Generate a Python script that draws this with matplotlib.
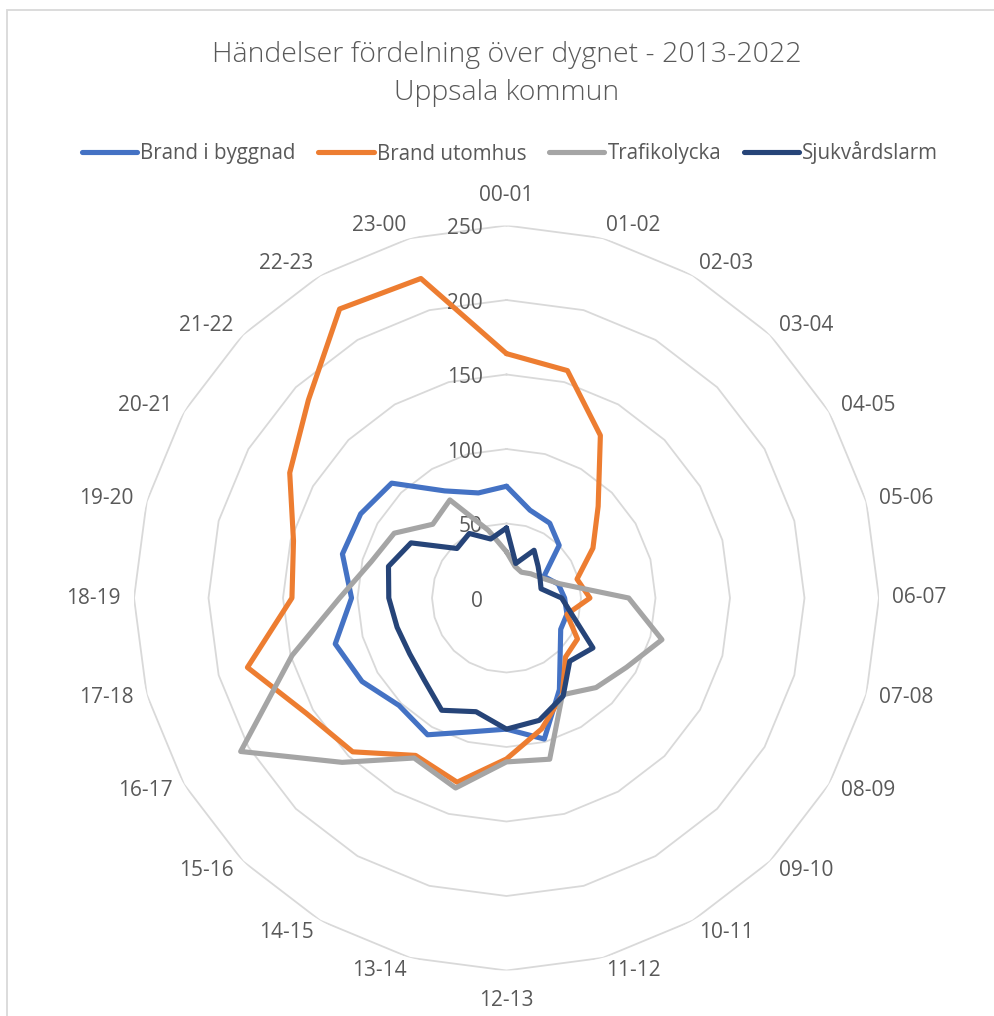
import numpy as np
import matplotlib
matplotlib.use("Agg")
import matplotlib.pyplot as plt
from matplotlib.lines import Line2D
from matplotlib.patches import Rectangle

plt.rcParams['font.family'] = ['Open Sans', 'DejaVu Sans']

# ---------------- data ----------------
hours = ["00-01", "01-02", "02-03", "03-04", "04-05", "05-06", "06-07", "07-08",
         "08-09", "09-10", "10-11", "11-12", "12-13", "13-14", "14-15", "15-16",
         "16-17", "17-18", "18-19", "19-20", "20-21", "21-22", "22-23", "23-00"]

series_names = ["Brand i byggnad", "Brand utomhus", "Trafikolycka", "Sjukvårdslarm"]

brand_i_byggnad = [75, 61, 58, 50, 29, 36, 39, 42, 42, 51, 71, 98,
                   88, 93, 106, 102, 112, 119, 104, 114, 113, 109, 83, 73]
brand_utomhus = [164, 158, 126, 87, 67, 49, 56, 42, 55, 56, 75, 91,
                 108, 128, 122, 146, 155, 180, 144, 148, 168, 188, 224, 222]
trafikolycka = [31, 22, 20, 23, 27, 37, 82, 108, 93, 85, 75, 112,
                110, 132, 124, 156, 206, 149, 112, 94, 87, 70, 76, 47]
sjukvardslarm = [47, 24, 37, 30, 26, 24, 37, 46, 67, 60, 76, 85,
                 88, 79, 87, 78, 75, 76, 79, 82, 74, 47, 50, 41]

radial_ticks = [0, 50, 100, 150, 200, 250]

title_line1 = "Händelser fördelning över dygnet - 2013-2022"
title_line2 = "Uppsala kommun"

colors = ["#4472C4", "#ED7D31", "#A5A5A5", "#264478"]
text_color = "#595959"
grid_color = "#D9D9D9"

# ---------------- figure ----------------
W, H = 995, 1016
fig = plt.figure(figsize=(W / 100, H / 100), dpi=100)
fig.patch.set_facecolor("white")

# chart-area border (partially visible)
fig.patches.append(Rectangle((7 / W, -0.05), 1.2, (H - 10) / H + 0.05,
                             transform=fig.transFigure, fill=False,
                             edgecolor=grid_color, linewidth=1.3))

cx, cy, R = 506.5, 598, 372.5
ax = fig.add_axes([(cx - R) / W, (H - cy - R) / H, 2 * R / W, 2 * R / H],
                  projection="polar")
ax.set_theta_zero_location("N")
ax.set_theta_direction(-1)
ax.set_ylim(0, radial_ticks[-1])
ax.grid(False)
ax.spines["polar"].set_visible(False)
ax.set_xticks([])
ax.set_yticks([])
ax.patch.set_alpha(0)

n = len(hours)
theta = np.deg2rad(np.arange(n) * 360.0 / n)
theta_c = np.append(theta, theta[0])

# polygon gridlines
for v in radial_ticks[1:]:
    ax.plot(theta_c, [v] * (n + 1), color=grid_color, lw=1.3, zorder=1,
            solid_joinstyle="miter")

# radial labels
for v in radial_ticks:
    ax.annotate(str(v), xy=(0, v), xytext=(-17, -2.5), textcoords="offset points",
                ha="right", va="center", fontsize=15, color=text_color,
                annotation_clip=False)

# category labels
for t, lab in zip(theta, hours):
    s, c = np.sin(t), np.cos(t)
    ha = "left" if s > 0.05 else ("right" if s < -0.05 else "center")
    r_lab = 270 if abs(s) < 0.05 else 259
    ax.text(t, r_lab, lab, ha=ha, va="center", fontsize=15, color=text_color,
            clip_on=False)

# data series
all_series = [brand_i_byggnad, brand_utomhus, trafikolycka, sjukvardslarm]
for i, (vals, col) in enumerate(zip(all_series, colors)):
    ax.plot(theta_c, list(vals) + [vals[0]], color=col, lw=3.7, zorder=3 + i,
            solid_joinstyle="round", solid_capstyle="round")

# title
fig.text(cx / W, 1 - 55 / H, title_line1, ha="center", va="center",
         fontsize=20.5, color=text_color, fontweight="light")
fig.text(cx / W, 1 - 93 / H, title_line2, ha="center", va="center",
         fontsize=20.5, color=text_color, fontweight="light")

# legend
handles = [Line2D([0], [0], color=col, lw=3.7, solid_capstyle="round")
           for col in colors]
fig.legend(handles, series_names, loc="center", bbox_to_anchor=(510 / W, 1 - 153 / H),
           ncol=4, frameon=False, fontsize=14.8, labelcolor=text_color,
           handlelength=2.7, handletextpad=0.15, columnspacing=1.1)

fig.savefig("out.png", dpi=100, facecolor="white")
